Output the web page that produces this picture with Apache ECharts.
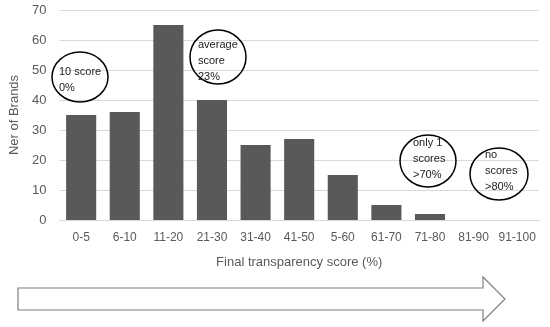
<!DOCTYPE html>
<html>
<head>
<meta charset="utf-8">
<script src="https://cdn.jsdelivr.net/npm/echarts@6/dist/echarts.min.js"></script>
<style>html,body{margin:0;padding:0;background:#fff}#c{width:550px;height:327px}</style>
</head>
<body>
<div id="c"></div>
<script>
const categories = ['0-5','6-10','11-20','21-30','31-40','41-50','5-60','61-70','71-80','81-90','91-100'];
const brandCounts = [35, 36, 65, 40, 25, 27, 15, 5, 2, 0, 0];
const yTicks = {min: 0, max: 70, interval: 10};
const yTitle = 'Ner of Brands';
const xTitle = 'Final transparency score (%)';
const notes = [
  {lines: ['10 score', '0%']},
  {lines: ['average', 'score', '23%']},
  {lines: ['only 1', 'scores', '>70%']},
  {lines: ['no', 'scores', '>80%']}
];

const chart = echarts.init(document.getElementById('c'), null, {renderer: 'canvas'});
const font = 'Liberation Sans, Arial, sans-serif';
const noteGeom = [
  {cx: 80, cy: 77, rx: 28, ry: 25, tx: 59, ty: 72},
  {cx: 218, cy: 57, rx: 28, ry: 27, tx: 198, ty: 45},
  {cx: 428, cy: 161, rx: 28, ry: 26, tx: 413, ty: 143},
  {cx: 499, cy: 174, rx: 29, ry: 26, tx: 485, ty: 155}
];
const graphics = [];
notes.forEach((n, i) => {
  const g = noteGeom[i];
  graphics.push({type: 'ellipse', shape: {cx: g.cx, cy: g.cy, rx: g.rx, ry: g.ry},
    style: {fill: 'rgba(255,255,255,0)', stroke: '#000', lineWidth: 1.5}, z: 10});
  graphics.push({type: 'text', x: g.tx, y: g.ty - 8, z: 11,
    style: {text: n.lines.join('\n'), font: '11px ' + font, fill: '#222', lineHeight: 16, verticalAlign: 'top', textAlign: 'left'}});
});
graphics.push({type: 'polygon', z: 10,
  shape: {points: [[18,288],[483,288],[483,277],[505,299],[483,321],[483,310],[18,310]]},
  style: {fill: '#fff', stroke: '#7f7f7f', lineWidth: 1.2}});

chart.setOption({
  animation: false,
  grid: {left: 57, right: 11, top: 10, bottom: 107},
  xAxis: {
    type: 'category', data: categories,
    name: xTitle, nameLocation: 'middle', nameGap: 36,
    nameTextStyle: {fontSize: 13, color: '#595959', fontFamily: font},
    axisLine: {lineStyle: {color: '#d9d9d9'}},
    axisTick: {show: false},
    axisLabel: {fontSize: 12, color: '#595959', fontFamily: font, margin: 12, interval: 0}
  },
  yAxis: {
    type: 'value', min: yTicks.min, max: yTicks.max, interval: yTicks.interval,
    name: yTitle, nameLocation: 'middle', nameGap: 38, nameRotate: 90,
    nameTextStyle: {fontSize: 13, color: '#595959', fontFamily: font},
    axisLine: {show: false}, axisTick: {show: false},
    splitLine: {lineStyle: {color: '#d9d9d9', width: 1}},
    axisLabel: {fontSize: 13, color: '#595959', fontFamily: font, margin: 13}
  },
  series: [{
    type: 'bar', data: brandCounts, barCategoryGap: '31%',
    itemStyle: {color: '#595959'}
  }],
  graphic: graphics
});
</script>
</body>
</html>
